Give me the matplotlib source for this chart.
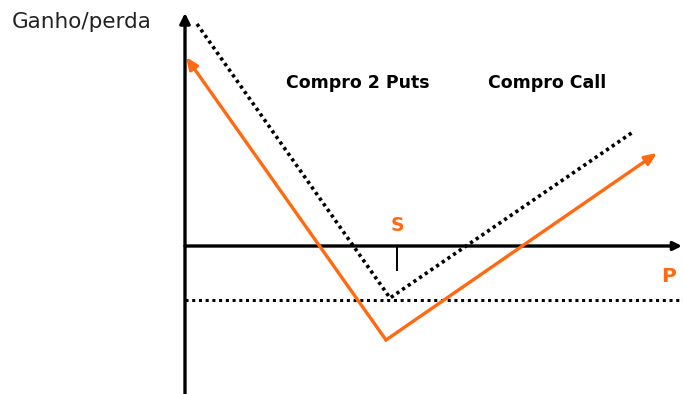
import matplotlib
matplotlib.use("Agg")
import matplotlib.pyplot as plt

# Data (origin = axes crossing; x = price P, y = gain/loss)
strike = 212
premium_level = -54
# dotted: payoff of the structure before premiums
dotted_x = [12, 205, 448]
dotted_y = [222, -52, 114]
# orange: net result
orange_x = [1, 201, 472]
orange_y = [189, -94, 93]

x_min, x_max = -185, 498
y_min, y_max = -148, 246

ORANGE = "#FF6A10"

fig = plt.figure(figsize=(6.83, 3.94), dpi=100)
ax = fig.add_axes([0, 0, 1, 1])
ax.set_xlim(x_min, x_max)
ax.set_ylim(y_min, y_max)
ax.axis("off")

# Axes with arrows
ax.annotate("", xy=(0, 233), xytext=(0, y_min),
            arrowprops=dict(arrowstyle="-|>,head_length=0.6,head_width=0.3",
                            color="black", lw=2.4, shrinkA=0, shrinkB=0))
ax.annotate("", xy=(497, 0), xytext=(0, 0),
            arrowprops=dict(arrowstyle="-|>,head_length=0.5,head_width=0.25",
                            color="black", lw=2.4, shrinkA=0, shrinkB=0))

# Premium dotted level
ax.plot([0, x_max], [premium_level, premium_level], color="black", lw=2.2,
        linestyle=(0, (1, 1.2)))

# Dotted V
ax.plot(dotted_x, dotted_y, color="black", lw=2.6, linestyle=(0, (0.9, 1.0)))

# Orange V with arrowheads at both ends
ax.plot(orange_x[1:-1] + orange_x[1:2], orange_y[1:-1] + orange_y[1:2], color=ORANGE)
ax.annotate("", xy=(orange_x[0], orange_y[0]), xytext=(orange_x[1], orange_y[1]),
            arrowprops=dict(arrowstyle="-|>,head_length=0.7,head_width=0.3",
                            color=ORANGE, lw=2.4, shrinkA=0, shrinkB=0))
ax.annotate("", xy=(orange_x[2], orange_y[2]), xytext=(orange_x[1], orange_y[1]),
            arrowprops=dict(arrowstyle="-|>,head_length=0.7,head_width=0.3",
                            color=ORANGE, lw=2.4, shrinkA=0, shrinkB=0))

# Strike tick
ax.plot([strike, strike], [0, -24], color="black", lw=1.4)

# Labels
ax.text(strike, 21, "S", color=ORANGE, fontsize=13.5, fontweight="bold",
        ha="center", va="center", family="DejaVu Sans")
ax.text(484, -31, "P", color=ORANGE, fontsize=14.5, fontweight="bold",
        ha="center", va="center", family="DejaVu Sans")
ax.text(-173, 224, "Ganho/perda", fontsize=15.5, ha="left", va="center",
        family="DejaVu Sans", color="#222222")
ax.text(173, 163, "Compro 2 Puts", fontsize=12.5, fontweight="bold",
        ha="center", va="center", family="DejaVu Sans")
ax.text(362, 163, "Compro Call", fontsize=12.5, fontweight="bold",
        ha="center", va="center", family="DejaVu Sans")

fig.savefig("out.png", dpi=100)
